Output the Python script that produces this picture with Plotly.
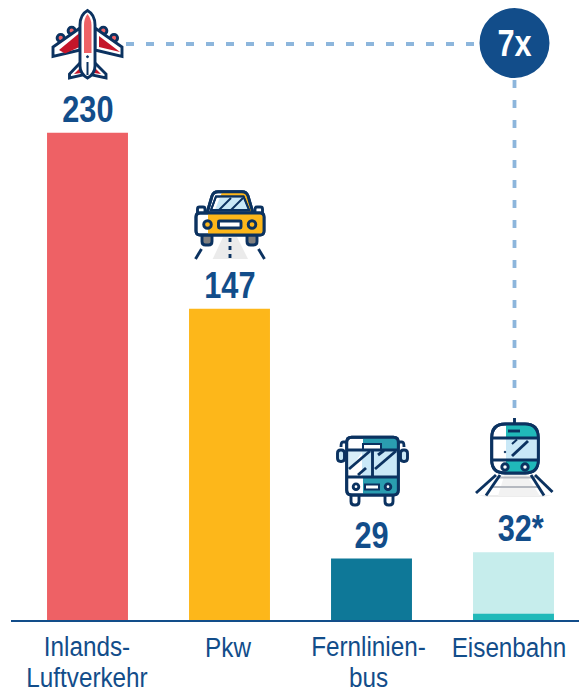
import plotly.graph_objects as go

categories = ["Inlands-<br>Luftverkehr", "Pkw", "Fernlinien-<br>bus", "Eisenbahn"]
values = [230, 147, 29, 32]
value_labels = ["230", "147", "29", "32*"]
bar_colors = ["#EE6165", "#FDB71A", "#0E7898", "#C6EDEC"]
rail_base_value = 3
multiple_label = "7x"

NAVY = "#0B3260"; BLUE = "#124D8A"; SKY = "#C9E8F7"; DASH = "#8DB6DC"
RED = "#C5162A"; SALMON = "#EE6165"; YEL = "#FDB71A"; TEAL = "#2A9DB0"; TURQ = "#20B9B9"
FONT = "Liberation Sans"

W, H, BASE, LEFT = 579, 695, 620, 11
UNIT = 2.118
STEP = 142
C0 = 87.5
cats = list(range(4))
LW = 2.9

fig = go.Figure()
fig.add_bar(x=cats, y=values, marker=dict(color=bar_colors, line_width=0), width=0.57, hoverinfo="skip")
fig.add_bar(x=[3], y=[rail_base_value], marker=dict(color=TURQ, line_width=0), width=0.57, hoverinfo="skip")
fig.add_scatter(x=[], y=[], xaxis="x2", yaxis="y2", hoverinfo="skip")

shapes = []
def add(path, fill=None, lc=NAVY, lw=LW):
    shapes.append(dict(type="path", path=path, xref="x2", yref="y2", layer="above",
                       fillcolor=fill or "rgba(0,0,0,0)",
                       line=dict(color=lc if lw else "rgba(0,0,0,0)", width=lw)))

def poly(pts, fill=None, lc=NAVY, lw=LW):
    add("M" + " L".join(f"{x},{y}" for x, y in pts) + " Z", fill, lc, lw)

def seg(x0, y0, x1, y1, lc=NAVY, lw=LW):
    add(f"M{x0},{y0} L{x1},{y1}", None, lc, lw)

def rrect(x0, y0, x1, y1, r=0, fill=None, lc=NAVY, lw=LW):
    if r == 0:
        poly([(x0, y0), (x1, y0), (x1, y1), (x0, y1)], fill, lc, lw)
    else:
        add(f"M{x0+r},{y0} L{x1-r},{y0} Q{x1},{y0} {x1},{y0+r} L{x1},{y1-r} Q{x1},{y1} {x1-r},{y1} "
            f"L{x0+r},{y1} Q{x0},{y1} {x0},{y1-r} L{x0},{y0+r} Q{x0},{y0} {x0+r},{y0} Z", fill, lc, lw)

def circ(cx, cy, r, fill=None, lc=NAVY, lw=LW):
    shapes.append(dict(type="circle", xref="x2", yref="y2", x0=cx-r, x1=cx+r, y0=cy-r, y1=cy+r,
                       layer="above", fillcolor=fill or "rgba(0,0,0,0)",
                       line=dict(color=lc if lw else "rgba(0,0,0,0)", width=lw)))

# connectors
shapes.append(dict(type="line", xref="x2", yref="y2", x0=126, x1=482, y0=44, y1=44, layer="above",
                   line=dict(color=DASH, width=3.8, dash="8px,12px")))
shapes.append(dict(type="line", xref="x2", yref="y2", x0=514.5, x1=514.5, y0=80, y1=418, layer="above",
                   line=dict(color=DASH, width=3.8, dash="8px,12px")))
circ(514.5, 43, 35, BLUE, BLUE, 0)

# plane
for cx, cy in [(60.7, 38), (71.7, 30.7), (103.3, 30.7), (114, 38)]:
    circ(cx, cy, 3.6, SALMON)
poly([(80, 28), (53, 47), (53, 56.5), (80, 50)], "#FFFFFF")
poly([(95, 28), (122, 47), (122, 56.5), (95, 50)], "#FFFFFF")
poly([(79.5, 33), (59, 50), (65, 53.5), (79.5, 47)], RED, RED, 0)
poly([(99, 36), (120, 52), (99, 47)], RED, RED, 0)
poly([(80, 63), (69.5, 74), (69.5, 78), (83, 75)], "#FFFFFF")
poly([(95, 63), (106, 74), (106, 78), (92, 75)], "#FFFFFF")
poly([(74, 74), (80, 68), (81, 73)], RED, RED, 0)
poly([(101, 74), (95, 68), (94, 73)], RED, RED, 0)
add("M87.5,10.5 C83,13 80,18 80,25 L80,66 C80,72 84,76 87.5,78 C91,76 95,72 95,66 L95,25 C95,18 92,13 87.5,10.5 Z", "#FFFFFF")
add("M87.5,14 C85,17 84,21 84,25 L84,53 L91.5,53 L91.5,25 C91.5,21 90,17 87.5,14 Z", SALMON, SALMON, 0)
seg(87.5, 62, 87.5, 75, NAVY, 2)
circ(87.5, 56.7, 1, NAVY, NAVY, 1)

# car
poly([(223, 237), (237, 237), (248, 259), (212.7, 259)], "#EBEBEB", "#EBEBEB", 0)
rrect(202, 233, 212, 245, 3.5, "#7F7F7F")
rrect(247, 233, 257, 245, 3.5, "#7F7F7F")
rrect(197.5, 207, 205, 215, 2, "#FFFFFF")
rrect(255, 207, 262.5, 215, 2, "#FFFFFF")
add("M207,213 L212,196 Q213.5,191.7 218,191.7 L242,191.7 Q246.5,191.7 248,196 L253,213 Z", "#FFFFFF")
add("M222,192.5 L242,192.5 Q245.5,192.5 247,196 L252,212 L247,212 L241,197 L220,197 Z", YEL, YEL, 0)
add("M207,213 L212,196 Q213.5,191.7 218,191.7 L242,191.7 Q246.5,191.7 248,196 L253,213 Z")
poly([(211, 210), (216, 196.5), (243.5, 196.5), (249, 210)], "#FFFFFF", NAVY, 2)
poly([(220, 197.5), (243, 197.5), (248, 209.5), (215, 209.5)], SKY, SKY, 0)
poly([(211, 210), (216, 196.5), (243.5, 196.5), (249, 210)], None, NAVY, 2)
seg(219, 210, 231, 198, NAVY, 2)
seg(231, 210, 243, 198, NAVY, 2)
rrect(196, 213, 264, 235, 4, "#FFFFFF")
add("M208,214 L260,214 Q263,214 263,217 L263,231 Q263,234 260,234 L208,234 Z", YEL, YEL, 0)
rrect(196, 213, 264, 235, 4)
circ(207.5, 224.5, 3.8, YEL)
circ(252, 224.5, 3.8, YEL)
rrect(218.5, 221, 241, 228, 1, "#FFFFFF")
seg(230, 238, 230, 242)
seg(230, 246, 230, 250)
seg(230, 254, 230, 258)
seg(201.5, 249, 195.5, 259)
seg(258.5, 249, 264.5, 259)

# bus
rrect(351, 491, 359, 505, 3.5, "#FFFFFF")
rrect(385, 491, 393, 505, 3.5, "#FFFFFF")
add("M347,442 L343,442 Q341,442 341,447", None)
add("M398,442 L402,442 Q404,442 404,447", None)
rrect(337.5, 450, 344.5, 461.5, 3.2, SKY)
rrect(400.5, 450, 407.5, 461.5, 3.2, SKY)
rrect(346.7, 437.3, 398.3, 495, 5, "#FFFFFF")
add("M363,438 L393,438 Q397.5,438 397.5,442 L397.5,450 L363,450 Z", TEAL, TEAL, 0)
add("M363,477 L397.5,477 L397.5,490 Q397.5,494 393,494 L363,494 Z", TEAL, TEAL, 0)
poly([(362, 450), (397, 450), (397, 477), (362, 477)], SKY, SKY, 0)
poly([(347.5, 450), (364, 450), (347.5, 472)], "#D8EEF8", SKY, 0)
rrect(346.7, 437.3, 398.3, 495, 5)
seg(347, 450, 398, 450)
seg(347, 477, 398, 477)
seg(372.5, 450, 372.5, 477)
seg(349, 469, 370, 451)
seg(358, 475, 366, 468)
seg(375, 469, 396, 451)
seg(378, 455, 384, 450.5)
rrect(363, 444, 381, 449.5, 0, "#FFFFFF", NAVY, 2)
circ(356, 486.7, 2.8, "#FFFFFF")
circ(388, 486.7, 2.8, "#FFFFFF")
rrect(365, 484.5, 379, 489.5, 0, "#FFFFFF", NAVY, 2)

# train
poly([(478, 495), (552, 495), (544, 497), (486, 497)], "#EDEDED", "#EDEDED", 0)
poly([(505, 473), (525, 473), (540, 496), (498, 496)], "#F2F2F2", "#F2F2F2", 0)
seg(497, 477.5, 535, 477.5, "#B5B9C0", 2.2)
seg(492, 487, 540, 487, "#B5B9C0", 2.2)
seg(496, 475, 476, 493)
seg(500, 475, 486, 495.5)
seg(531, 475, 544, 495.5)
seg(535, 475, 552.5, 492)
seg(514.5, 418, 514.5, 424)
BODY = "M491.7,438 Q491.7,424 505,424 L525,424 Q538.3,424 538.3,438 L538.3,460 Q538.3,473 525,473 L505,473 Q491.7,473 491.7,460 Z"
add(BODY, "#FFFFFF")
add("M506,425 L525,425 Q537.3,425 537.3,438 L506,438 Z", TURQ, TURQ, 0)
poly([(506, 438), (537.3, 438), (537.3, 460), (506, 460)], SKY, SKY, 0)
add("M506,460 L537.3,460 Q537.3,472 525,472 L506,472 Z", TURQ, TURQ, 0)
add(BODY)
seg(492, 438, 538, 438)
seg(492, 460, 538, 460)
seg(508, 431, 520, 431)
seg(512, 456, 528, 441)
seg(512, 444, 517, 439.5, NAVY, 2)
circ(505, 467, 3.2, "#FFFFFF")
circ(525, 467, 3.2, "#FFFFFF")
circ(505, 452, 0.8, NAVY, NAVY, 1)

annotations = []
for c, v, t in zip(cats, values, value_labels):
    annotations.append(dict(x=c, y=v, text=f"<b>{t}</b>", showarrow=False, yanchor="bottom", yshift=1,
                            xshift=7 if t.endswith("*") else 0,
                            font=dict(family=FONT, size=37, color=BLUE)))
annotations.append(dict(x=514.5, y=43, xref="x2", yref="y2", text=f"<b>{multiple_label}</b>", showarrow=False,
                        font=dict(family=FONT, size=37, color="#FFFFFF")))

fig.update_layout(
    width=W, height=H, barmode="overlay", showlegend=False, plot_bgcolor="#FFFFFF", paper_bgcolor="#FFFFFF",
    margin=dict(l=LEFT, r=0, t=0, b=H - BASE, pad=0), shapes=shapes, annotations=annotations,
    xaxis=dict(range=[(LEFT - C0) / STEP, (W - C0) / STEP], tickmode="array", tickvals=cats, ticktext=categories,
               showgrid=False, zeroline=False, showline=True, linecolor=BLUE, linewidth=2, ticks="",
               ticklabeloverflow="allow", tickangle=0,
               tickfont=dict(family=FONT, size=28, color=BLUE), automargin=False),
    yaxis=dict(range=[0, BASE / UNIT], visible=False, showgrid=False, zeroline=False),
    xaxis2=dict(range=[LEFT, W], overlaying="x", visible=False, fixedrange=True),
    yaxis2=dict(range=[BASE, 0], overlaying="y", visible=False, fixedrange=True),
)

# Condensed look: the page has no condensed face, so text is narrowed in place.
post = """
document.body.style.margin = '0';
document.documentElement.style.overflow = 'hidden';
function narrow(el, s, dx) {
  var x = parseFloat(el.getAttribute('x')) || 0;
  var t = el.getAttribute('transform') || '';
  el.setAttribute('transform', t + ' translate(' + (x + dx) + ',0) scale(' + s + ',1) translate(' + (-x) + ',0)');
}
var shifts = [-0.5, -1.5, -3, -4.5];
document.querySelectorAll('.xtick text').forEach(function (el, k) {
  el.setAttribute('y', 657.5);
  el.querySelectorAll('tspan.line').forEach(function (sp, i) {
    if (i > 0) { sp.setAttribute('dy', '31.4'); sp.removeAttribute('y'); }
  });
  narrow(el, 0.867, shifts[k] || 0);
});
document.querySelectorAll('.annotation-text').forEach(function (el) { narrow(el, 0.83, 0); });
"""
fig.write_html("out.html", config={"displayModeBar": False}, post_script=post)
